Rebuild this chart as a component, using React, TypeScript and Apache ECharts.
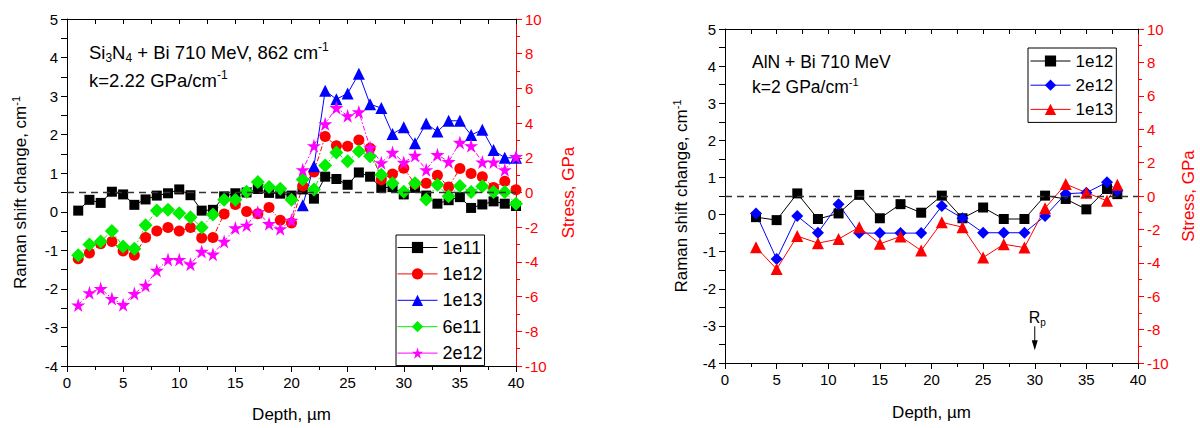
import React, { useEffect, useRef } from "react";
import * as echarts from "echarts";

const FONT = "'Liberation Sans', Arial, Helvetica, sans-serif";

// ---------- Left chart: Si3N4 + Bi 710 MeV ----------
const depthLeft = [1, 2, 3, 4, 5, 6, 7, 8, 9, 10, 11, 12, 13, 14, 15, 16, 17, 18, 19, 20,
  21, 22, 23, 24, 25, 26, 27, 28, 29, 30, 31, 32, 33, 34, 35, 36, 37, 38, 39, 40];
const depthLeftHigh = [21, 22, 23, 24, 25, 26, 27, 28, 29, 30, 31, 32, 33, 34, 35, 36, 37, 38, 39, 40];
const si1e11 = [0.03, 0.31, 0.23, 0.52, 0.45, 0.18, 0.32, 0.42, 0.48, 0.58, 0.43, 0.03, 0.05, 0.40, 0.48, 0.50, 0.59, 0.49, 0.47, 0.42,
  0.58, 0.34, 0.91, 0.85, 0.70, 1.02, 0.91, 0.62, 0.64, 0.45, 0.62, 0.42, 0.21, 0.30, 0.38, 0.10, 0.19, 0.27, 0.21, 0.15];
const si1e12 = [-1.22, -1.07, -0.83, -0.77, -1.02, -1.13, -0.67, -0.50, -0.41, -0.50, -0.41, -0.68, -0.67, -0.06, 0.19, 0.01, -0.05, 0.11, -0.22, -0.29,
  0.67, 1.03, 1.95, 1.71, 1.70, 1.86, 1.65, 0.83, 0.98, 1.13, 0.72, 0.74, 0.95, 0.64, 1.12, 0.99, 0.91, 0.63, 0.79, 0.57];
const si1e13 = [0.17, 1.18, 3.14, 2.92, 3.07, 3.58, 2.79, 2.69, 2.02, 2.19, 1.78, 2.29, 2.08, 2.36, 2.36, 1.99, 2.13, 1.60, 1.40, 1.40];
const si6e11 = [-1.13, -0.85, -0.77, -0.50, -0.90, -0.96, -0.35, 0.03, 0.05, -0.04, -0.14, -0.41, -0.07, 0.31, 0.31, 0.52, 0.77, 0.64, 0.60, 0.31,
  0.84, 0.58, 1.20, 1.54, 1.31, 1.57, 1.44, 0.96, 0.74, 0.52, 0.74, 0.32, 0.70, 0.40, 0.67, 0.51, 0.66, 0.51, 0.51, 0.21];
const si2e12 = [-2.42, -2.10, -1.99, -2.25, -2.41, -2.12, -1.91, -1.52, -1.24, -1.24, -1.36, -1.03, -1.10, -0.77, -0.42, -0.35, -0.01, -0.31, -0.44, -0.22,
  1.09, 1.71, 2.28, 2.70, 2.49, 2.59, 1.67, 1.27, 1.54, 1.28, 1.46, 1.09, 1.48, 1.30, 1.80, 1.71, 1.29, 1.29, 1.09, 1.43];
const legendLeft = ["1e11", "1e12", "1e13", "6e11", "2e12"];

// ---------- Right chart: AlN + Bi 710 MeV ----------
const depthRight = [3, 5, 7, 9, 11, 13, 15, 17, 19, 21, 23, 25, 27, 29, 31, 33, 35, 37, 38];
const aln1e12 = [-0.07, -0.15, 0.57, -0.12, 0.03, 0.53, -0.10, 0.28, 0.05, 0.51, -0.10, 0.19, -0.12, -0.12, 0.51, 0.42, 0.14, 0.69, 0.55];
const aln2e12 = [0.03, -1.20, -0.04, -0.49, 0.28, -0.50, -0.50, -0.50, -0.50, 0.23, -0.10, -0.49, -0.49, -0.49, -0.04, 0.56, 0.59, 0.87, 0.64];
const aln1e13 = [-0.88, -1.47, -0.58, -0.77, -0.66, -0.34, -0.79, -0.59, -0.97, -0.21, -0.34, -1.16, -0.80, -0.89, 0.17, 0.82, 0.59, 0.37, 0.80];
const legendRight = ["1e12", "2e12", "1e13"];

const zeroStressShift = 0.5; // dashed reference line (stress = 0)
const rpDepth = 30;

const STAR = "path://M50,0 L61,35 L98,35 L68,57 L79,91 L50,70 L21,91 L32,57 L2,35 L39,35 Z";

const pairs = (xs: number[], ys: number[]) => xs.map((x, i) => [x, ys[i]]);

const axisStyle = (color: string) => ({
  axisLine: { show: true, onZero: false, lineStyle: { color, width: 1 } },
  axisTick: { show: true, length: 6, lineStyle: { color, width: 1 } },
  minorTick: { show: true, splitNumber: 2, length: 4, lineStyle: { color, width: 1 } },
  splitLine: { show: false },
  minorSplitLine: { show: false },
  axisLabel: { color, fontSize: 15, fontFamily: FONT, margin: 9 },
});

const TITLE = 17;
const nameRich = (color: string) => ({
  color,
  fontSize: TITLE,
  fontFamily: FONT,
  rich: {
    t: { fontSize: TITLE, fontFamily: FONT, color, lineHeight: 20 },
    sup: { fontSize: 11, fontFamily: FONT, color, verticalAlign: "top", lineHeight: 12 },
  },
});

function buildAxes(grid: any, xName: string, nameGaps: number[]) {
  const xAxis = [
    {
      type: "value", position: "bottom", min: 0, max: 40, interval: 5,
      ...axisStyle("#000"),
      name: xName, nameLocation: "middle", nameGap: nameGaps[0],
      nameTextStyle: { color: "#000", fontSize: TITLE, fontFamily: FONT },
    },
    {
      type: "value", position: "top", min: 0, max: 40, interval: 5,
      ...axisStyle("#000"),
      axisTick: { show: true, inside: true, length: 5, lineStyle: { color: "#000" } },
      minorTick: { show: true, splitNumber: 2, length: 5, lineStyle: { color: "#000" } },
      axisLabel: { show: false },
    },
  ];
  const yAxis = [
    {
      type: "value", position: "left", min: -4, max: 5, interval: 1,
      ...axisStyle("#000"),
      axisTick: { show: true, length: 6, lineStyle: { color: "#000" } },
      minorTick: { show: true, splitNumber: 2, length: 6, lineStyle: { color: "#000" } },
      name: "{t|Raman shift change, cm}{sup|-1}", nameLocation: "middle", nameGap: nameGaps[1],
      nameTextStyle: nameRich("#000"),
    },
    {
      type: "value", position: "right", min: -10, max: 10, interval: 2,
      ...axisStyle("#ff0000"),
      name: "Stress, GPa", nameLocation: "middle", nameGap: nameGaps[2],
      nameTextStyle: { color: "#ff0000", fontSize: TITLE, fontFamily: FONT },
    },
  ];
  return { grid, xAxis, yAxis };
}

const lineSeries = (name: string, data: any[], color: string, symbol: string, size: number, dashed: boolean, extra: any = {}) => ({
  type: "line",
  name,
  data,
  xAxisIndex: 0,
  yAxisIndex: 0,
  symbol,
  symbolSize: size,
  showSymbol: true,
  itemStyle: { color, borderWidth: 0 },
  lineStyle: { color, width: 1, type: dashed ? [5, 2, 1.5, 2] : "solid" },
  emphasis: { disabled: true },
  ...extra,
});

const refLine = {
  markLine: {
    silent: true,
    symbol: ["none", "none"],
    label: { show: false },
    lineStyle: { color: "#333", width: 1.3, type: [7, 5] },
    data: [{ yAxis: zeroStressShift }],
  },
};

const makeRich = (fs: number) => ({
  t: { fontSize: fs, fontFamily: FONT, fill: "#000", color: "#000", lineHeight: fs + 4 },
  sub: { fontSize: Math.round(fs * 0.65), fontFamily: FONT, fill: "#000", color: "#000", verticalAlign: "bottom", lineHeight: Math.round(fs * 0.65) + 1 },
  sup: { fontSize: Math.round(fs * 0.65), fontFamily: FONT, fill: "#000", color: "#000", verticalAlign: "top", lineHeight: Math.round(fs * 0.65) + 1 },
});

export default function App() {
  const leftRef = useRef<HTMLDivElement>(null);
  const rightRef = useRef<HTMLDivElement>(null);

  useEffect(() => {
    const left = echarts.init(leftRef.current!, null, { renderer: "svg" });
    const right = echarts.init(rightRef.current!, null, { renderer: "svg" });

    const legendCommon = {
      orient: "vertical",
      itemWidth: 40,
      itemHeight: 14,
      backgroundColor: "#fff",
      borderColor: "#000",
      borderWidth: 1,
      borderRadius: 0,
      selectedMode: false,
      lineStyle: { type: "solid", width: 1 },
    };

    const richL = makeRich(18.5);
    const richR = makeRich(17.5);

    left.setOption({
      animation: false,
      backgroundColor: "#fff",
      ...buildAxes({ left: 67, top: 19, width: 449, height: 347, outerBoundsMode: "none" }, "Depth, µm", [40, 37, 44]),
      legend: {
        ...legendCommon,
        data: legendLeft,
        left: 396,
        top: 235,
        itemGap: 8.4,
        padding: [3.5, 2, 3.5, 1],
        textStyle: { fontSize: 18, fontFamily: FONT, color: "#000" },
      },
      series: [
        lineSeries(legendLeft[0], pairs(depthLeft, si1e11), "#000000", "rect", 10, false, refLine),
        lineSeries(legendLeft[1], pairs(depthLeft, si1e12), "#ff0000", "circle", 11, true),
        lineSeries(legendLeft[2], pairs(depthLeftHigh, si1e13), "#0000ff", "triangle", 12, false),
        lineSeries(legendLeft[3], pairs(depthLeft, si6e11), "#00ee00", "diamond", 14, true),
        lineSeries(legendLeft[4], pairs(depthLeft, si2e12), "#ff00ff", STAR, 14, true),
      ],
      graphic: [
        {
          type: "text", left: 89, top: 41,
          style: { text: "{t|Si}{sub|3}{t|N}{sub|4}{t| + Bi 710 MeV, 862 cm}{sup|-1}", rich: richL },
        },
        {
          type: "text", left: 89, top: 69,
          style: { text: "{t|k=2.22 GPa/cm}{sup|-1}", rich: richL },
        },
      ],
    });

    right.setOption({
      animation: false,
      backgroundColor: "#fff",
      ...buildAxes({ left: 125, top: 29, width: 413, height: 334, outerBoundsMode: "none" }, "Depth, µm", [41, 34, 42]),
      legend: {
        ...legendCommon,
        data: legendRight,
        left: 428,
        top: 48,
        itemGap: 7.2,
        padding: [4.5, 3, 4.5, 2],
        textStyle: { fontSize: 17, fontFamily: FONT, color: "#000" },
      },
      series: [
        lineSeries(legendRight[0], pairs(depthRight, aln1e12), "#000000", "rect", 10, false, refLine),
        lineSeries(legendRight[1], pairs(depthRight, aln2e12), "#0000ff", "diamond", 12, false),
        lineSeries(legendRight[2], pairs(depthRight, aln1e13), "#ff0000", "triangle", 12, false),
      ],
    });

    const rx = right.convertToPixel({ xAxisIndex: 0 }, rpDepth) as number;
    const ry = right.convertToPixel({ yAxisIndex: 0 }, -2.5) as number;
    right.setOption({
      graphic: [
        {
          type: "text", left: 152, top: 53,
          style: { text: "{t|AlN + Bi 710 MeV}", rich: richR },
        },
        {
          type: "text", left: 152, top: 76,
          style: { text: "{t|k=2 GPa/cm}{sup|-1}", rich: richR },
        },
        {
          type: "text", x: rx - 6, y: ry,
          style: { text: "{t|R}{sub|p}", rich: makeRich(16) },
        },
        {
          type: "line",
          shape: { x1: rx, y1: ry + 19, x2: rx, y2: ry + 40 },
          style: { stroke: "#000", lineWidth: 1 },
        },
        {
          type: "polygon",
          shape: { points: [[rx - 3, ry + 33], [rx + 3, ry + 33], [rx, ry + 43]] },
          style: { fill: "#000" },
        },
      ],
    });

    return () => {
      left.dispose();
      right.dispose();
    };
  }, []);

  return (
    <div style={{ position: "absolute", left: 0, top: 0, width: 1200, height: 428, background: "#fff" }}>
      <div ref={leftRef} style={{ position: "absolute", left: 0, top: 0, width: 600, height: 428 }} />
      <div ref={rightRef} style={{ position: "absolute", left: 600, top: 0, width: 600, height: 428 }} />
    </div>
  );
}
